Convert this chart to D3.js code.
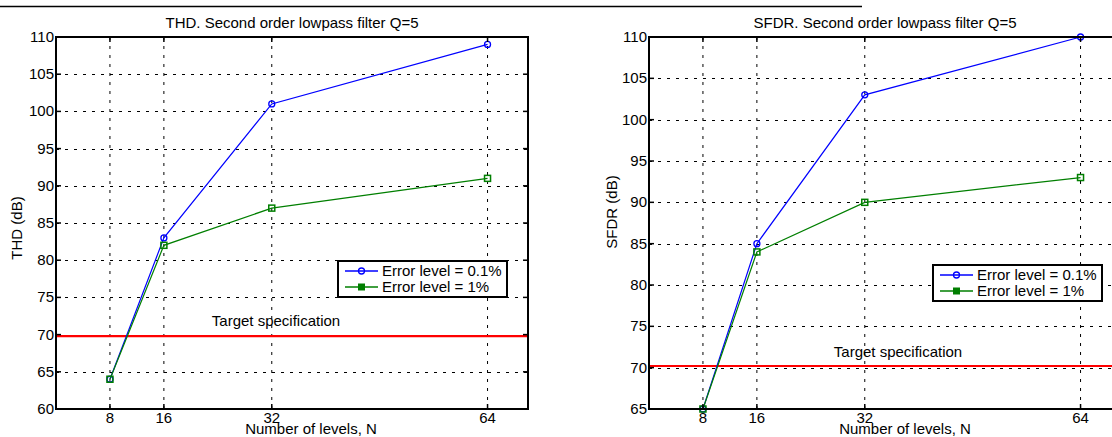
<!DOCTYPE html>
<html>
<head>
<meta charset="utf-8">
<script src="https://cdn.jsdelivr.net/npm/d3@7"></script>
<style>
  body { margin: 0; background: #fff; }
  svg { display: block; }
  text { font-family: "Liberation Sans", Arial, Helvetica, sans-serif; fill: #000; }
</style>
</head>
<body>
<svg id="chart" width="1112" height="437"></svg>
<script>
// Number of quantization levels on the x axis
const levels = [8, 16, 32, 64];
const xTickValues = [8, 16, 32, 64];

// THD (dB) for each error level
const thdErr01 = [64, 83, 101, 109];
const thdErr1 = [64, 82, 87, 91];

// SFDR (dB) for each error level
const sfdrErr01 = [65, 85, 103, 110];
const sfdrErr1 = [65, 84, 90, 93];

// Y tick labels
const thdTicks = [60, 65, 70, 75, 80, 85, 90, 95, 100, 105, 110];
const sfdrTicks = [65, 70, 75, 80, 85, 90, 95, 100, 105, 110];

// Target specification levels
const thdTarget = 69.8;
const sfdrTarget = 70.2;

const seriesNames = ["Error level = 0.1%", "Error level = 1%"];
const seriesColors = ["#0000ff", "#007f00"];

const FS = 15;
const svg = d3.select("#chart");

// Thin rule across the top of the page
svg.append("line")
  .attr("x1", 0).attr("x2", 862).attr("y1", 6.5).attr("y2", 6.5)
  .attr("stroke", "#000").attr("stroke-width", 1.5);

const panels = [
  {
    title: "THD. Second order lowpass filter Q=5",
    ylabel: "THD (dB)",
    left: 56, right: 528, top: 37, bottom: 409,
    yDomain: [60, 110], yTicks: thdTicks,
    series: [thdErr01, thdErr1], target: thdTarget,
    legend: { x: 338, y: 261, w: 169, h: 36 },
    targetLabel: { x: 276, y: 326 },
    xlabelX: 311, ylabelX: 17, ylabelY: 228
  },
  {
    title: "SFDR. Second order lowpass filter Q=5",
    ylabel: "SFDR (dB)",
    left: 649, right: 1121, top: 37, bottom: 409,
    yDomain: [65, 110], yTicks: sfdrTicks,
    series: [sfdrErr01, sfdrErr1], target: sfdrTarget,
    legend: { x: 933, y: 265, w: 169, h: 36 },
    targetLabel: { x: 898, y: 357 },
    xlabelX: 905, ylabelX: 612, ylabelY: 212
  }
];

panels.forEach(p => {
  const x = d3.scaleLinear().domain([0, 70]).range([p.left, p.right]);
  const y = d3.scaleLinear().domain(p.yDomain).range([p.bottom, p.top]);
  const g = svg.append("g");

  // Dotted grid
  const grid = g.append("g").attr("stroke", "#000").attr("stroke-width", 1)
    .attr("stroke-dasharray", "3,6").attr("fill", "none");
  xTickValues.forEach(v => {
    grid.append("line").attr("x1", x(v)).attr("x2", x(v))
      .attr("y1", p.top).attr("y2", p.bottom);
  });
  p.yTicks.filter(v => v > p.yDomain[0] && v < p.yDomain[1]).forEach(v => {
    grid.append("line").attr("x1", p.left).attr("x2", p.right)
      .attr("y1", Math.round(y(v)) + 0.5).attr("y2", Math.round(y(v)) + 0.5);
  });

  // Target specification line
  g.append("line")
    .attr("x1", p.left).attr("x2", p.right)
    .attr("y1", y(p.target)).attr("y2", y(p.target))
    .attr("stroke", "#ff0000").attr("stroke-width", 2.2);
  g.append("text")
    .attr("x", p.targetLabel.x).attr("y", p.targetLabel.y)
    .attr("text-anchor", "middle").attr("font-size", FS)
    .text("Target specification");

  // Data series
  const line = d3.line().x((d, i) => x(levels[i])).y(d => y(d));
  p.series.forEach((vals, si) => {
    g.append("path").datum(vals)
      .attr("d", line).attr("fill", "none")
      .attr("stroke", seriesColors[si]).attr("stroke-width", 1.2);
  });
  // Markers
  p.series.forEach((vals, si) => {
    vals.forEach((v, i) => {
      if (si === 0) {
        g.append("circle").attr("cx", x(levels[i])).attr("cy", y(v)).attr("r", 3)
          .attr("fill", "none").attr("stroke", seriesColors[si]).attr("stroke-width", 1.3);
      } else {
        g.append("rect").attr("x", x(levels[i]) - 3).attr("y", y(v) - 3)
          .attr("width", 6).attr("height", 6)
          .attr("fill", "none").attr("stroke", seriesColors[si]).attr("stroke-width", 1.5);
      }
    });
  });

  // Axes box
  g.append("rect")
    .attr("x", p.left).attr("y", p.top)
    .attr("width", p.right - p.left).attr("height", p.bottom - p.top)
    .attr("fill", "none").attr("stroke", "#000").attr("stroke-width", 2);

  // Inward ticks on all sides
  const tk = g.append("g").attr("stroke", "#000").attr("stroke-width", 1.5);
  const TL = 5;
  xTickValues.forEach(v => {
    tk.append("line").attr("x1", x(v)).attr("x2", x(v)).attr("y1", p.bottom).attr("y2", p.bottom - TL);
    tk.append("line").attr("x1", x(v)).attr("x2", x(v)).attr("y1", p.top).attr("y2", p.top + TL);
  });
  p.yTicks.forEach(v => {
    tk.append("line").attr("x1", p.left).attr("x2", p.left + TL).attr("y1", y(v)).attr("y2", y(v));
    tk.append("line").attr("x1", p.right).attr("x2", p.right - TL).attr("y1", y(v)).attr("y2", y(v));
  });

  // Tick labels
  xTickValues.forEach(v => {
    g.append("text").attr("x", x(v)).attr("y", p.bottom + 14)
      .attr("text-anchor", "middle").attr("font-size", FS).text(v);
  });
  p.yTicks.forEach(v => {
    g.append("text").attr("x", p.left - 2).attr("y", y(v) + 5)
      .attr("text-anchor", "end").attr("font-size", FS).text(v);
  });

  // Title and axis labels
  g.append("text").attr("x", (p.left + p.right) / 2).attr("y", 28)
    .attr("text-anchor", "middle").attr("font-size", FS).text(p.title);
  g.append("text").attr("x", p.xlabelX).attr("y", 434)
    .attr("text-anchor", "middle").attr("font-size", FS).text("Number of levels, N");
  g.append("text")
    .attr("transform", `translate(${p.ylabelX + 5},${p.ylabelY}) rotate(-90)`)
    .attr("text-anchor", "middle").attr("font-size", FS).text(p.ylabel);

  // Legend
  const L = p.legend;
  const lg = g.append("g");
  lg.append("rect").attr("x", L.x).attr("y", L.y).attr("width", L.w).attr("height", L.h)
    .attr("fill", "#fff").attr("stroke", "#000").attr("stroke-width", 2);
  seriesNames.forEach((name, si) => {
    const cy = L.y + 10 + si * 16;
    lg.append("line").attr("x1", L.x + 7).attr("x2", L.x + 40)
      .attr("y1", cy).attr("y2", cy)
      .attr("stroke", seriesColors[si]).attr("stroke-width", 1.3);
    if (si === 0) {
      lg.append("circle").attr("cx", L.x + 23.5).attr("cy", cy).attr("r", 3)
        .attr("fill", "none").attr("stroke", seriesColors[si]).attr("stroke-width", 1.3);
    } else {
      lg.append("rect").attr("x", L.x + 20.5).attr("y", cy - 3).attr("width", 6).attr("height", 6)
        .attr("fill", seriesColors[si]).attr("stroke", seriesColors[si]).attr("stroke-width", 1);
    }
    lg.append("text").attr("x", L.x + 44).attr("y", cy + 5)
      .attr("font-size", FS).text(name);
  });
});
</script>
</body>
</html>
